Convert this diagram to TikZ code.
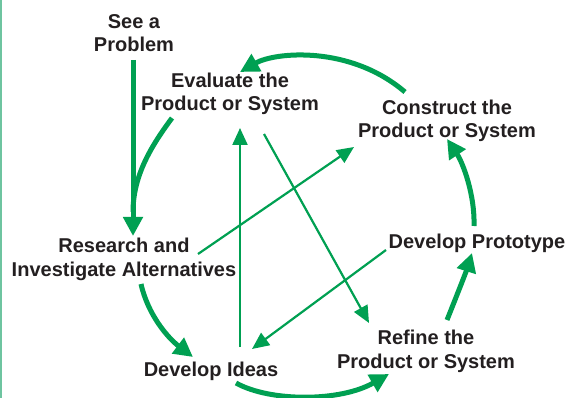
\documentclass[tikz,border=0pt]{standalone}
\usepackage{fontspec}
\setmainfont{Liberation Sans}
\usetikzlibrary{arrows.meta}
\definecolor{cyc}{RGB}{0,160,82}
\definecolor{edge}{RGB}{110,196,160}
\definecolor{ink}{RGB}{35,31,32}
\tikzset{
  lbl/.style={font=\bfseries\fontsize{20}{23.5}\selectfont, text=ink, align=center, inner sep=0pt, anchor=base},
  thick arrow/.style={draw=cyc, line width=5pt, -{Triangle[length=19pt,width=19pt]}},
  thick line/.style={draw=cyc, line width=5pt},
  thin arrow/.style={draw=cyc, line width=2.2pt, -{Triangle[length=17pt,width=15pt]}}
}
\begin{document}
\begin{tikzpicture}[x=1pt,y=-1pt]
\useasboundingbox (0,0) rectangle (570,398);
\draw[edge, line width=2pt] (1,0) -- (1,398);
% labels (anchor = baseline of last line)
\node[lbl] (see) at (134,52) {See a\\Problem};
\node[lbl] (eval) at (230,111) {Evaluate the\\Product or System};
\node[lbl] (cons) at (447,138) {Construct the\\Product or System};
\node[lbl] (res) at (124,276) {Research and\\Investigate Alternatives};
\node[lbl] (proto) at (477,248) {Develop Prototype};
\node[lbl] (ideas) at (211,376) {Develop Ideas};
\node[lbl] (refine) at (426,368) {Refine the\\Product or System};
% connector end points
\coordinate (see-out) at (133,60);
\coordinate (res-in) at (133,236);
\coordinate (eval-out) at (172,118);
\coordinate (res-join) at (133,212);
\coordinate (res-out) at (141,284);
\coordinate (ideas-in) at (193,357);
\coordinate (ideas-out) at (236,383);
\coordinate (refine-in) at (389,374);
\coordinate (refine-out) at (447,320);
\coordinate (proto-in) at (472,253);
\coordinate (proto-out) at (474,226);
\coordinate (cons-in) at (447,139);
\coordinate (cons-out) at (405,92);
\coordinate (eval-in) at (240,72);
\coordinate (ideas-up) at (240,347);
\coordinate (eval-in2) at (240,128);
\coordinate (eval-out2) at (264,134);
\coordinate (refine-in2) at (369,323);
\coordinate (res-out2) at (198,254);
\coordinate (cons-in2) at (354,147);
\coordinate (proto-out2) at (386,250);
\coordinate (ideas-in2) at (252,349);
% thick cycle
\draw[thick arrow] (see-out) -- (res-in);
\draw[thick line] (eval-out) .. controls (152,145) and (133,175) .. (res-join);
\draw[thick arrow] (res-out) .. controls (148,315) and (168,338) .. (ideas-in);
\draw[thick arrow] (ideas-out) .. controls (270,402) and (340,402) .. (refine-in);
\draw[thick arrow] (refine-out) .. controls (457,295) and (466,272) .. (proto-in);
\draw[thick arrow] (proto-out) .. controls (475,195) and (463,163) .. (cons-in);
\draw[thick arrow] (cons-out) .. controls (350,45) and (275,52) .. (eval-in);
% thin cross links
\draw[thin arrow] (ideas-up) -- (eval-in2);
\draw[thin arrow] (eval-out2) -- (refine-in2);
\draw[thin arrow] (res-out2) -- (cons-in2);
\draw[thin arrow] (proto-out2) -- (ideas-in2);
\end{tikzpicture}
\end{document}
